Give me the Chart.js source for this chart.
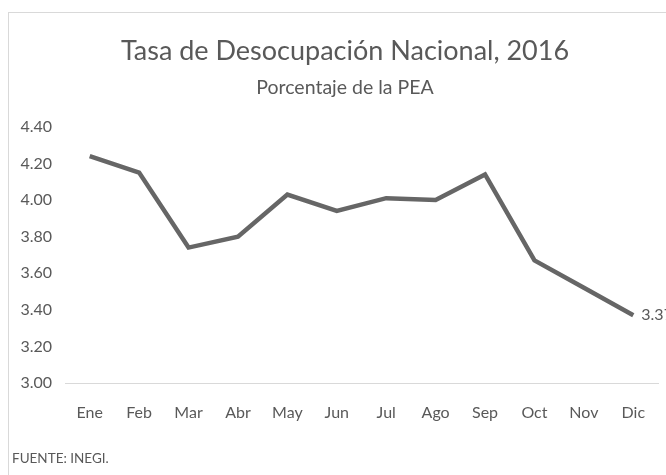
<!DOCTYPE html>
<html>
<head>
<meta charset="utf-8">
<script src="https://cdn.jsdelivr.net/npm/chart.js@4/dist/chart.umd.min.js"></script>
<style>
  html, body { margin: 0; padding: 0; background: #fff; overflow: hidden; }
  #frame { position: absolute; left: 8px; top: 12px; width: 700px; height: 500px; border: 1px solid #d9d9d9; }
  #wrap { position: absolute; left: 0; top: 0; width: 666px; height: 475px; }
</style>
</head>
<body>
<div id="frame"></div>
<div id="wrap"><canvas id="desempleoChart"></canvas></div>
<script>
// datos INEGI, tasa de desocupacion 2016 (% de la PEA)
const meses = ["Ene", "Feb", "Mar", "Abr", "May", "Jun", "Jul", "Ago", "Sep", "Oct", "Nov", "Dic"];
const tasa = [4.24, 4.15, 3.74, 3.80, 4.03, 3.94, 4.01, 4.00, 4.14, 3.67, 3.52, 3.37];
const ejeY = [3.00, 3.20, 3.40, 3.60, 3.80, 4.00, 4.20, 4.40];

const fuente = "Lato, 'Liberation Sans', sans-serif";
const gris = "#595959";

// etiqueta del ultimo punto + nota de fuente
const extras = {
    id: "extras",
    afterLayout(chart) {
        // el marco original sigue fuera del recorte: titulos un poco a la derecha
        chart.boxes.forEach(b => {
            if (b.options && b.options.text !== undefined) b.left += 32;
        });
    },
    afterDatasetsDraw(chart) {
        const ctx = chart.ctx;
        const meta = chart.getDatasetMeta(0);
        const last = meta.data[meta.data.length - 1];
        ctx.save();
        ctx.font = "16px " + fuente;
        ctx.fillStyle = gris;
        ctx.textBaseline = "middle";
        ctx.fillText(tasa[tasa.length - 1].toFixed(2), last.x + 8, last.y);
        ctx.font = "13.5px " + fuente;
        ctx.fillText("FUENTE: INEGI.", 12, 459);
        ctx.restore();
    }
};

const ctx = document.getElementById("desempleoChart");
new Chart(ctx, {
    type: "line",
    data: {
        labels: meses,
        datasets: [{
            label: "Tasa",
            data: tasa,
            borderColor: "#666666",
            borderWidth: 4.5,
            pointRadius: 0,
            tension: 0,
            fill: false
        }]
    },
    options: {
        responsive: true,
        maintainAspectRatio: false,
        animation: false,
        layout: { padding: { left: 0, right: 8, top: 0, bottom: 42 } },
        plugins: {
            legend: { display: false },
            tooltip: { enabled: false },
            title: {
                display: true,
                text: "Tasa de Desocupación Nacional, 2016",
                color: gris,
                font: { family: fuente, size: 27, weight: "normal" },
                padding: { top: 35, bottom: 2 }
            },
            subtitle: {
                display: true,
                text: "Porcentaje de la PEA",
                color: gris,
                font: { family: fuente, size: 19.5, weight: "normal" },
                padding: { top: 7, bottom: 27 }
            }
        },
        scales: {
            x: {
                offset: true,
                grid: { display: false, drawTicks: false },
                border: { display: true, color: "#d9d9d9", width: 1 },
                ticks: { color: gris, font: { family: fuente, size: 16 }, padding: 20, maxRotation: 0 },
                afterFit(scale) { scale.height = 50; }
            },
            y: {
                min: 3.0,
                max: 4.4,
                grid: { display: false, drawTicks: false },
                border: { display: false },
                afterBuildTicks(scale) { scale.ticks = ejeY.map(v => ({ value: v })); },
                ticks: {
                    color: gris,
                    font: { family: fuente, size: 16 },
                    padding: 13,
                    callback: v => Number(v).toFixed(2)
                },
                afterFit(scale) { scale.width = 65; }
            }
        }
    },
    plugins: [extras]
});
</script>
</body>
</html>
